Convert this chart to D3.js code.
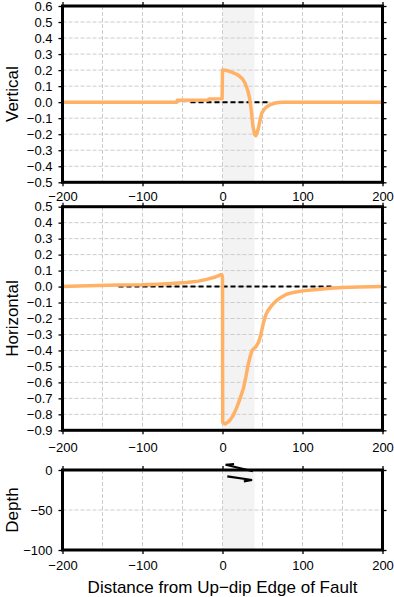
<!DOCTYPE html>
<html>
<head>
<meta charset="utf-8">
<script src="https://cdn.jsdelivr.net/npm/d3@7"></script>
<style>
  html, body { margin: 0; padding: 0; background: #fff; }
  svg { display: block; font-family: "Liberation Sans", Arial, Helvetica, sans-serif; }
</style>
</head>
<body>
<svg id="chart" width="394" height="597"></svg>
<script>
// ---------------- data ----------------
const xTicks = [-200, -100, 0, 100, 200];
const xGrid = [-150, -100, -50, 0, 50, 100, 150];
const faultExtent = [0, 40];

const vertTicks = [0.6, 0.5, 0.4, 0.3, 0.2, 0.1, 0.0, -0.1, -0.2, -0.3, -0.4, -0.5];
const horizTicks = [0.5, 0.4, 0.3, 0.2, 0.1, 0.0, -0.1, -0.2, -0.3, -0.4, -0.5, -0.6, -0.7, -0.8, -0.9];
const depthTicks = [0, -50, -100];

const vertX = [-200, -57, -56.5, -18, -17, -0.5, 0, 0.5, 5, 10, 15, 20, 25, 28, 30, 32, 34, 36, 38, 40, 41.5, 43, 45, 47, 49, 52, 55, 60, 65, 70, 75, 200];
const vertY = [0, 0, 0.012, 0.013, 0.02, 0.022, 0.2, 0.2, 0.198, 0.19, 0.18, 0.167, 0.145, 0.12, 0.095, 0.065, 0.02, -0.05, -0.15, -0.2, -0.21, -0.195, -0.16, -0.11, -0.07, -0.045, -0.03, -0.015, -0.007, -0.002, 0, 0];

const horizX = [-200, -180, -155, -130, -100, -80, -60, -45, -30, -20, -10, -2, -0.5, 0, 0.1, 0.3, 3, 8, 13, 18, 22, 26, 29, 32, 35, 37, 39, 42, 45, 48, 51, 54, 57, 62, 68, 74, 80, 90, 100, 118, 135, 150, 170, 200];
const horizY = [0, 0.003, 0.007, 0.009, 0.011, 0.015, 0.02, 0.025, 0.034, 0.045, 0.058, 0.075, 0.07, 0.05, -0.5, -0.85, -0.86, -0.845, -0.81, -0.755, -0.70, -0.64, -0.57, -0.49, -0.43, -0.40, -0.39, -0.375, -0.35, -0.30, -0.23, -0.18, -0.149, -0.115, -0.086, -0.065, -0.048, -0.035, -0.027, -0.018, -0.011, -0.006, -0.002, 0];

const vertRef = [-40, 60];
const horizRef = [-130, 138];

// fault slip half-arrows (distance, depth)
const arrowUpper = [[4, 6.5], [38, -1.5]];   // head at up-dip end
const arrowLower = [[6, -8], [37, -12.5]];   // head at down-dip end

// ---------------- layout ----------------
const svg = d3.select("#chart");
const X0 = 62.5, X1 = 382.5;
const x = d3.scaleLinear().domain([-200, 200]).range([X0, X1]);

const orange = "#ffb266";
const gridColor = "#cccccc";
const fmt1 = d => d3.format(".1f")(d);
const fmt0 = d => d3.format("d")(d);

function panel(opts) {
  const y = d3.scaleLinear().domain(opts.yDomain).range(opts.yRange);
  const g = svg.append("g");
  const top = opts.yRange[1], bot = opts.yRange[0];

  // shaded fault band
  g.append("rect")
    .attr("x", x(faultExtent[0])).attr("y", top)
    .attr("width", x(faultExtent[1]) - x(faultExtent[0]))
    .attr("height", bot - top)
    .attr("fill", "#f3f3f3");

  // grid
  g.selectAll(".gx").data(xGrid).enter().append("line")
    .attr("x1", d => x(d)).attr("x2", d => x(d))
    .attr("y1", top).attr("y2", bot)
    .attr("stroke", gridColor).attr("stroke-width", 1).attr("stroke-dasharray", "4,2");
  g.selectAll(".gy").data(opts.yGrid).enter().append("line")
    .attr("x1", X0).attr("x2", X1)
    .attr("y1", d => y(d)).attr("y2", d => y(d))
    .attr("stroke", gridColor).attr("stroke-width", 1).attr("stroke-dasharray", "4,2");

  // reference dashed line
  if (opts.ref) {
    g.append("line")
      .attr("x1", x(opts.ref[0])).attr("x2", x(opts.ref[1]))
      .attr("y1", y(0)).attr("y2", y(0))
      .attr("stroke", "#000").attr("stroke-width", 2).attr("stroke-dasharray", "5,3");
  }

  // data line
  if (opts.xs) {
    const pts = opts.xs.map((v, i) => [v, opts.ys[i]]);
    g.append("path")
      .datum(pts)
      .attr("fill", "none")
      .attr("stroke", orange)
      .attr("stroke-width", 3.5)
      .attr("stroke-linejoin", "round")
      .attr("d", d3.line().x(d => x(d[0])).y(d => y(d[1])));
  }

  if (opts.extra) opts.extra(g, y);

  // axes
  const styleAxis = sel => {
    sel.select(".domain").remove();
    sel.selectAll(".tick line").attr("stroke", "#000").attr("stroke-width", 1.3);
    sel.selectAll(".tick text").attr("fill", "#000").attr("font-size", 13)
      .attr("font-family", "'Liberation Sans', Arial, sans-serif");
  };
  g.append("g").attr("transform", `translate(${X0},0)`)
    .call(d3.axisLeft(y).tickValues(opts.yTicks).tickSize(4).tickPadding(6).tickFormat(opts.fmt))
    .call(styleAxis);
  g.append("g").attr("transform", `translate(${X1},0)`)
    .call(d3.axisRight(y).tickValues(opts.yTicks).tickSize(4).tickFormat(""))
    .call(styleAxis);
  g.append("g").attr("transform", `translate(0,${top})`)
    .call(d3.axisTop(x).tickValues(xTicks).tickSize(4).tickFormat(opts.topLabels ? fmt0 : ""))
    .call(styleAxis);
  g.append("g").attr("transform", `translate(0,${bot})`)
    .call(d3.axisBottom(x).tickValues(xTicks).tickSize(4).tickPadding(opts.botPad).tickFormat(fmt0))
    .call(styleAxis);

  // frame
  g.append("rect")
    .attr("x", X0).attr("y", top)
    .attr("width", X1 - X0).attr("height", bot - top)
    .attr("fill", "none").attr("stroke", "#000").attr("stroke-width", 3);

  if (opts.over) opts.over(g, y);

  // axis title
  g.append("text")
    .attr("transform", `translate(18,${(top + bot) / 2}) rotate(-90)`)
    .attr("text-anchor", "middle")
    .attr("font-size", 17)
    .attr("fill", "#000")
    .text(opts.title);
  return y;
}

panel({
  yDomain: [-0.5, 0.6], yRange: [182.3, 6],
  yTicks: vertTicks, yGrid: vertTicks.slice(1, -1), fmt: fmt1,
  xs: vertX, ys: vertY, ref: vertRef, title: "Vertical", botPad: 5
});

panel({
  yDomain: [-0.9, 0.5], yRange: [430.3, 206.7],
  yTicks: horizTicks, yGrid: horizTicks.slice(1, -1), fmt: fmt1,
  xs: horizX, ys: horizY, ref: horizRef, title: "Horizontal", botPad: 8
});

panel({
  yDomain: [-100, 0], yRange: [550, 470],
  yTicks: depthTicks, yGrid: [-50], fmt: fmt0,
  title: "Depth", botPad: 7,
  over: (g, y) => {
    function halfArrow(pts, headAtStart, side) {
      const p0 = [x(pts[0][0]), y(pts[0][1])];
      const p1 = [x(pts[1][0]), y(pts[1][1])];
      g.append("line")
        .attr("x1", p0[0]).attr("y1", p0[1]).attr("x2", p1[0]).attr("y2", p1[1])
        .attr("stroke", "#000").attr("stroke-width", 2.2);
      const tip = headAtStart ? p0 : p1;
      const other = headAtStart ? p1 : p0;
      const dx = other[0] - tip[0], dy = other[1] - tip[1];
      const len = Math.hypot(dx, dy);
      const ux = dx / len, uy = dy / len;
      const nx = -uy * side, ny = ux * side;
      const bx = tip[0] + ux * 8 + nx * 2.5, by = tip[1] + uy * 8 + ny * 2.5;
      g.append("line")
        .attr("x1", tip[0]).attr("y1", tip[1]).attr("x2", bx).attr("y2", by)
        .attr("stroke", "#000").attr("stroke-width", 2.2);
    }
    halfArrow(arrowUpper, true, -1);
    halfArrow(arrowLower, false, -1);
  }
});

// x axis title
svg.append("text")
  .attr("x", x(0)).attr("y", 593)
  .attr("text-anchor", "middle")
  .attr("font-size", 17)
  .attr("fill", "#000")
  .text("Distance from Up\u2212dip Edge of Fault");
</script>
</body>
</html>
